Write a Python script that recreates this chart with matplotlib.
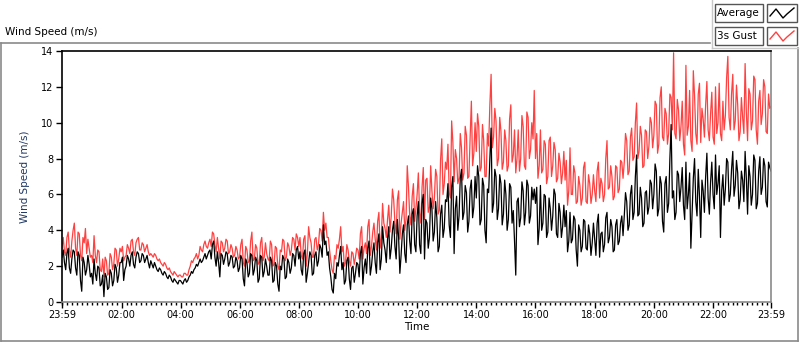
import numpy as np
import matplotlib
matplotlib.use('Agg')
import matplotlib.pyplot as plt
from matplotlib.patches import Rectangle
from matplotlib.lines import Line2D

# ====================================
# Data (2.5-minute readings, one row per hour)
# ====================================
avg_speed = [
    2.5, 2.9, 2.2, 1.8, 2.7, 3.0, 1.9, 1.6, 2.4, 2.9, 2.8, 1.9, 1.5, 2.8, 2.6, 1.2, 0.6, 2.5, 2.2, 1.5, 1.8, 2.6, 2.1, 1.4,
    1.6, 1.0, 2.4, 1.6, 1.2, 2.0, 1.9, 0.9, 1.0, 1.5, 0.3, 1.6, 1.4, 0.7, 0.8, 1.8, 1.6, 0.9, 1.2, 2.1, 1.9, 1.1, 1.5, 2.2,
    2.2, 2.5, 1.2, 1.8, 2.0, 2.6, 2.4, 2.0, 2.6, 2.8, 2.1, 1.9, 2.5, 2.8, 2.7, 2.2, 2.3, 2.7, 2.6, 2.2, 2.4, 2.6, 2.2, 1.9,
    2.3, 2.1, 1.9, 2.2, 2.0, 1.8, 1.7, 1.9, 1.8, 1.6, 1.5, 1.7, 1.6, 1.4, 1.3, 1.5, 1.4, 1.2, 1.1, 1.3, 1.2, 1.1, 1.0, 1.2,
    1.2, 1.1, 1.0, 1.2, 1.3, 1.1, 1.2, 1.4, 1.5, 1.7, 1.6, 1.8, 1.9, 2.1, 2.0, 2.2, 2.4, 2.2, 2.3, 2.5, 2.7, 2.4, 2.6, 2.8,
    2.9, 2.4, 3.2, 3.4, 2.5, 2.0, 2.8, 2.2, 1.4, 2.7, 2.6, 2.1, 2.4, 2.8, 2.7, 2.0, 2.2, 2.6, 2.5, 1.9, 2.0, 2.5, 2.3, 1.7,
    1.9, 2.6, 2.4, 1.3, 0.9, 2.4, 2.2, 1.4, 1.6, 2.7, 2.6, 1.5, 1.8, 2.5, 2.3, 1.1, 1.3, 2.6, 2.5, 1.4, 1.7, 2.4, 2.0, 1.5,
    1.5, 2.5, 2.3, 1.1, 1.2, 2.2, 2.0, 1.0, 0.6, 2.0, 1.8, 2.6, 2.4, 1.3, 1.4, 2.4, 2.2, 1.6, 1.9, 2.7, 2.6, 2.0, 2.9, 3.1,
    2.4, 2.8, 1.8, 1.5, 2.7, 2.9, 1.1, 1.6, 2.2, 2.8, 2.6, 1.5, 1.6, 2.6, 2.8, 2.0, 2.3, 3.2, 3.0, 2.5, 4.3, 3.2, 3.4, 2.6,
    2.8, 1.9, 1.4, 0.7, 0.5, 1.6, 1.3, 2.2, 2.0, 2.6, 3.1, 1.8, 2.2, 1.0, 1.2, 2.3, 2.5, 1.3, 0.7, 1.9, 2.0, 1.1, 1.6, 2.2,
    2.1, 1.4, 2.7, 3.1, 1.0, 1.9, 2.4, 1.6, 3.0, 3.4, 1.5, 2.0, 2.8, 3.3, 2.2, 1.6, 3.3, 3.8, 1.8, 2.4, 4.2, 3.3, 2.9, 2.2,
    3.5, 4.2, 2.4, 3.0, 4.0, 4.5, 3.1, 2.4, 4.6, 3.6, 1.6, 2.6, 3.8, 4.3, 2.7, 2.2, 4.3, 4.8, 3.4, 2.7, 4.9, 5.2, 3.2, 2.8,
    4.8, 5.6, 3.2, 2.7, 5.5, 6.0, 2.4, 4.6, 4.4, 3.0, 3.6, 5.8, 5.2, 3.4, 3.9, 5.6, 4.7, 2.8, 3.1, 4.9, 5.4, 3.6, 4.1, 5.7,
    5.6, 6.6, 4.3, 3.6, 6.4, 7.0, 2.7, 5.2, 5.9, 4.0, 4.8, 6.9, 7.4, 4.6, 5.0, 6.5, 6.1, 3.9, 4.5, 6.3, 6.8, 4.7, 5.3, 7.0,
    5.8, 7.6, 7.0, 4.3, 4.6, 6.9, 6.5, 4.0, 3.3, 6.3, 6.1, 8.0, 9.7, 5.0, 5.5, 7.4, 7.0, 4.6, 5.2, 7.1, 6.6, 4.3, 4.9, 6.8,
    6.0, 4.0, 4.6, 6.6, 6.4, 4.4, 5.1, 3.4, 1.5, 5.6, 5.8, 4.2, 4.7, 6.7, 6.2, 4.3, 5.0, 6.8, 6.5, 4.4, 4.8, 6.4, 5.7, 6.3,
    5.5, 6.4, 3.2, 4.1, 6.5, 4.0, 4.4, 6.0, 5.9, 3.6, 3.9, 5.8, 5.2, 4.0, 4.8, 6.3, 6.0, 3.8, 3.6, 5.5, 5.0, 3.6, 4.2, 5.4,
    4.2, 5.1, 2.8, 3.4, 5.0, 3.3, 3.5, 4.8, 4.6, 2.9, 2.0, 4.3, 4.0, 2.8, 3.1, 4.6, 4.5, 3.0, 2.9, 4.3, 3.8, 2.6, 3.3, 4.4,
    3.5, 2.6, 4.4, 4.9, 2.5, 3.8, 3.9, 2.8, 3.2, 4.7, 5.0, 3.3, 3.6, 4.6, 4.2, 2.8, 2.9, 4.3, 4.6, 3.2, 3.4, 4.4, 4.8, 3.7,
    4.8, 6.1, 5.6, 4.0, 4.3, 6.0, 6.5, 4.6, 5.0, 7.0, 8.2, 4.8, 4.9, 6.4, 5.8, 4.2, 4.4, 6.1, 6.2, 4.9, 5.3, 6.8, 6.6, 5.2,
    6.0, 7.7, 7.3, 4.8, 5.2, 7.0, 6.6, 4.5, 3.9, 6.6, 7.0, 5.0, 5.5, 8.0, 9.9, 5.8, 6.2, 4.6, 5.0, 7.3, 7.1, 5.6, 6.4, 7.5,
    5.4, 4.6, 7.8, 5.2, 6.0, 7.2, 3.0, 5.0, 6.9, 8.0, 5.6, 4.8, 7.4, 5.9, 3.6, 6.8, 6.2, 5.0, 7.0, 8.3, 5.8, 4.9, 6.7, 7.8,
    6.0, 5.2, 8.2, 6.0, 6.6, 7.6, 3.6, 6.2, 7.1, 5.4, 6.3, 8.0, 7.8, 5.6, 6.0, 7.4, 8.4, 5.9, 6.5, 7.9, 7.2, 5.2, 5.7, 7.3,
    6.8, 5.6, 8.4, 6.9, 4.9, 7.6, 7.0, 5.4, 6.0, 8.2, 7.9, 5.2, 5.5, 7.3, 8.1, 6.0, 6.4, 8.0, 7.6, 5.6, 5.3, 7.8, 7.5, 7.3,
]
gust_speed = [
    3.0, 3.6, 2.8, 2.6, 3.6, 3.9, 2.9, 2.5, 3.4, 4.0, 4.4, 3.0, 2.6, 3.9, 3.8, 2.6, 2.3, 3.6, 3.3, 4.1, 2.7, 3.5, 3.0, 2.5,
    2.6, 2.2, 3.7, 2.6, 2.2, 2.9, 2.8, 1.8, 1.7, 2.4, 1.4, 2.5, 2.3, 1.5, 1.6, 2.7, 2.5, 1.8, 2.1, 3.0, 2.9, 2.0, 2.4, 3.0,
    2.8, 3.1, 2.3, 2.5, 2.6, 3.2, 3.0, 2.7, 3.4, 3.5, 2.8, 2.6, 3.3, 3.5, 3.6, 2.9, 2.9, 3.3, 3.2, 2.8, 3.0, 3.2, 2.8, 2.6,
    2.7, 2.6, 2.5, 2.7, 2.6, 2.4, 2.3, 2.4, 2.2, 2.1, 2.0, 2.2, 2.1, 1.9, 1.8, 1.9, 1.7, 1.6, 1.5, 1.7, 1.6, 1.5, 1.4, 1.5,
    1.5, 1.4, 1.4, 1.6, 1.6, 1.5, 1.5, 1.8, 2.0, 2.3, 2.2, 2.4, 2.5, 2.7, 2.4, 2.6, 3.1, 2.9, 2.8, 3.2, 3.4, 3.1, 3.0, 3.3,
    3.5, 3.1, 3.9, 3.8, 3.2, 2.8, 3.6, 3.0, 2.4, 3.4, 3.3, 2.8, 3.0, 3.5, 3.4, 2.7, 2.8, 3.2, 3.0, 2.5, 2.6, 3.1, 2.9, 2.4,
    2.5, 3.2, 3.5, 2.2, 2.0, 3.1, 2.9, 2.2, 2.3, 3.4, 3.9, 2.3, 2.4, 3.2, 3.0, 2.1, 2.2, 3.3, 3.6, 2.3, 2.5, 3.3, 2.7, 2.4,
    2.3, 3.4, 3.2, 2.0, 2.1, 3.1, 3.0, 2.0, 1.8, 2.9, 2.8, 3.5, 3.4, 2.3, 2.5, 3.3, 3.1, 2.6, 2.9, 3.6, 3.5, 2.9, 3.8, 3.6,
    3.1, 3.6, 2.6, 2.4, 3.5, 3.7, 2.0, 2.7, 4.2, 3.6, 3.3, 2.5, 2.5, 3.5, 3.6, 2.9, 3.2, 4.1, 4.0, 3.4, 5.0, 4.0, 4.4, 3.6,
    3.6, 2.9, 2.3, 1.8, 1.6, 2.6, 2.4, 3.2, 3.0, 3.5, 4.2, 2.8, 3.1, 2.0, 2.2, 3.2, 2.9, 2.3, 2.0, 2.8, 2.7, 2.1, 2.5, 3.0,
    2.9, 2.4, 3.8, 4.2, 2.4, 3.0, 3.3, 2.7, 4.2, 4.6, 2.6, 3.1, 3.9, 4.4, 3.5, 2.9, 4.5, 5.0, 3.0, 3.6, 5.5, 4.4, 4.1, 3.6,
    4.6, 5.4, 3.9, 4.8, 6.3, 5.7, 4.4, 3.8, 5.7, 6.2, 3.5, 4.4, 5.0, 5.6, 4.0, 4.6, 7.6, 6.4, 4.8, 4.3, 5.9, 6.6, 4.5, 5.2,
    6.0, 7.2, 5.0, 4.4, 6.4, 7.5, 4.6, 6.8, 6.9, 5.0, 5.3, 7.6, 6.2, 5.2, 5.8, 7.4, 7.0, 4.9, 5.1, 7.9, 9.1, 6.0, 6.6, 7.8,
    7.4, 8.8, 6.1, 5.8, 10.1, 8.9, 6.7, 8.5, 8.0, 6.6, 6.9, 9.4, 8.6, 6.8, 7.2, 9.8, 9.3, 6.9, 7.0, 9.2, 11.2, 7.6, 8.3, 10.0,
    8.4, 10.5, 9.8, 7.3, 7.5, 9.9, 9.0, 7.0, 7.0, 9.4, 8.7, 11.0, 12.7, 8.6, 9.2, 10.8, 10.1, 7.6, 8.0, 10.3, 9.5, 7.4, 7.8, 9.6,
    9.0, 7.3, 7.6, 10.2, 11.0, 7.8, 8.2, 9.6, 7.2, 8.0, 9.6, 7.3, 8.0, 10.4, 9.8, 7.6, 7.4, 10.6, 10.3, 8.0, 8.5, 10.0, 9.1, 11.8,
    8.0, 9.4, 6.9, 7.6, 9.6, 7.2, 7.4, 9.0, 8.8, 6.6, 7.0, 9.0, 9.2, 7.0, 7.6, 8.9, 8.5, 6.7, 6.9, 8.3, 7.8, 6.6, 7.2, 8.4,
    6.8, 7.9, 5.4, 6.2, 8.6, 6.0, 6.0, 7.6, 7.2, 5.5, 5.6, 7.0, 6.5, 5.4, 5.8, 7.5, 7.8, 5.6, 5.5, 7.1, 6.6, 5.5, 6.0, 7.1,
    6.2, 5.6, 7.3, 7.8, 5.8, 6.9, 6.6, 5.6, 6.0, 8.0, 9.0, 6.3, 6.4, 7.6, 7.0, 5.7, 5.9, 7.6, 7.5, 6.1, 6.3, 7.9, 7.8, 6.9,
    7.8, 9.4, 9.0, 7.1, 7.3, 9.2, 9.7, 7.9, 8.1, 10.0, 11.1, 8.0, 8.4, 9.8, 9.3, 7.5, 7.6, 9.6, 9.5, 8.0, 8.7, 10.3, 10.0, 8.6,
    9.3, 11.2, 11.0, 8.3, 8.8, 11.4, 12.0, 9.2, 9.0, 10.8, 10.5, 8.8, 9.4, 11.6, 11.4, 9.6, 13.9, 9.4, 9.1, 11.3, 10.7, 9.0, 9.8, 11.2,
    8.8, 8.2, 13.2, 9.3, 9.8, 11.8, 9.0, 8.4, 12.9, 11.5, 9.4, 8.8, 11.6, 12.2, 8.9, 10.8, 10.2, 9.2, 11.0, 12.3, 9.6, 9.0, 10.5, 11.7,
    9.2, 8.8, 12.0, 9.4, 10.0, 12.2, 9.4, 9.0, 11.2, 9.6, 10.4, 12.5, 13.7, 10.3, 9.6, 11.6, 12.7, 9.6, 10.1, 12.1, 11.0, 9.0, 9.5, 11.4,
    10.3, 9.4, 13.3, 10.6, 9.0, 11.9, 11.6, 9.6, 10.1, 12.6, 12.4, 9.6, 8.8, 11.2, 11.8, 9.9, 10.5, 12.4, 12.0, 9.5, 9.4, 11.6, 10.8, 10.9,
]

# minutes since 23:59
t_min = np.linspace(0, 1439, len(avg_speed))

tick_pos    = [0, 121, 241, 361, 481, 601, 721, 841, 961, 1081, 1201, 1321, 1439]
tick_labels = ['23:59', '02:00', '04:00', '06:00', '08:00', '10:00', '12:00',
               '14:00', '16:00', '18:00', '20:00', '22:00', '23:59']
y_ticks = [0, 2, 4, 6, 8, 10, 12, 14]

# ====================================
# Figure
# ====================================
W, H = 800, 342
fig = plt.figure(figsize=(W/100, H/100), dpi=100)
plt.rcParams['font.family'] = 'DejaVu Sans'

def fx(x): return x/W
def fy(y): return 1 - y/H

ax = fig.add_axes([fx(62), fy(302), (771-62)/W, (302-51)/H])

ax.plot(t_min, gust_speed, color='#ff4040', linewidth=0.9)
ax.plot(t_min, avg_speed, color='black', linewidth=0.9)

ax.set_xlim(0, 1439)
ax.set_ylim(0, 14)
ax.set_xticks(tick_pos)
ax.set_xticklabels(tick_labels)
ax.set_xticks([m for m in range(1, 1439, 10) if m not in tick_pos], minor=True)
ax.set_yticks(y_ticks)
ax.tick_params(axis='both', which='major', direction='out', length=4, width=1,
               labelsize=7, pad=2, color='black')
ax.tick_params(axis='x', which='minor', direction='out', length=2, width=1)

ax.spines['left'].set_color('black')
ax.spines['top'].set_color('black')
ax.spines['right'].set_color('#8a8a8a')
ax.spines['bottom'].set_color('#8a8a8a')
for s in ax.spines.values():
    s.set_linewidth(1.2)

ax.set_xlabel('Time', fontsize=7.5, labelpad=1)
ax.set_ylabel('Wind Speed (m/s)', fontsize=7.5, color='#1f3864', labelpad=8)

# ====================================
# Outer panel frame and title
# ====================================
frame_col = '#8a8a8a'
fig.add_artist(Line2D([fx(0.5), fx(710)], [fy(42.5), fy(42.5)], color=frame_col, lw=1.2, transform=fig.transFigure))
fig.add_artist(Line2D([fx(0.5), fx(0.5)], [fy(42.5), fy(341)], color=frame_col, lw=1.2, transform=fig.transFigure))
fig.add_artist(Line2D([fx(0.5), fx(798)], [fy(340.5), fy(340.5)], color=frame_col, lw=1.2, transform=fig.transFigure))
fig.add_artist(Line2D([fx(798), fx(798)], [fy(48), fy(341)], color=frame_col, lw=1.2, transform=fig.transFigure))
fig.add_artist(Line2D([fx(712), fx(798)], [fy(48), fy(48)], color='#c8c8c8', lw=1.0, transform=fig.transFigure))
fig.add_artist(Line2D([fx(712), fx(712)], [fy(48), fy(0)], color='#c8c8c8', lw=1.0, transform=fig.transFigure))

fig.text(fx(5), fy(32), 'Wind Speed (m/s)', fontsize=7.5, ha='left', va='center')

# ====================================
# Legend (LabVIEW style)
# ====================================
legend_items = [('Average', 'black', 4), ('3s Gust', '#ff4040', 27)]
for label, col, top in legend_items:
    fig.add_artist(Rectangle((fx(715), fy(top+18)), 48/W, 18/H, fill=False,
                             edgecolor='#555555', lw=1, transform=fig.transFigure))
    fig.text(fx(717), fy(top+9), label, fontsize=7.5, ha='left', va='center')
    fig.add_artist(Rectangle((fx(767), fy(top+18)), 30/W, 18/H, fill=False,
                             edgecolor='#555555', lw=1, transform=fig.transFigure))
    zx = [770, 776, 783, 787, 794]
    zy = [top+12, top+5, top+14, top+10, top+4]
    fig.add_artist(Line2D([fx(v) for v in zx], [fy(v) for v in zy], color=col, lw=1,
                          transform=fig.transFigure))

fig.savefig('out.png', dpi=100)
